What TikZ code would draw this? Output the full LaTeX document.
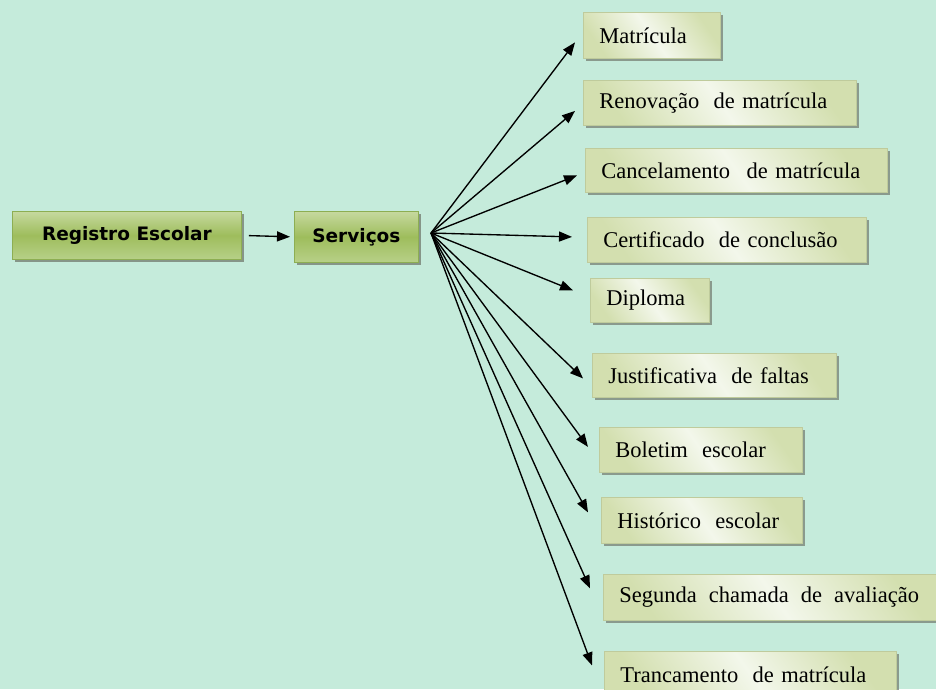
\documentclass[tikz,border=0pt]{standalone}
\usepackage{fontspec}
\setmainfont{Liberation Serif}
\newfontfamily\boxsans{DejaVu Sans}
\usetikzlibrary{shadows,arrows.meta,calc}
\definecolor{bgmint}{HTML}{C5EBDB}
\definecolor{gtop}{HTML}{C6D99F}
\definecolor{gmid}{HTML}{9EBD5C}
\definecolor{gbot}{HTML}{B7D088}
\definecolor{gborder}{HTML}{8DAE52}
\definecolor{rdark}{HTML}{D3DFAF}
\definecolor{rlight}{HTML}{F3F7EB}
\definecolor{rborder}{HTML}{BFCB9C}
\definecolor{shadowc}{HTML}{808C80}
\begin{document}
\begin{tikzpicture}[x=1pt,y=-1pt,
  gbox/.style={draw=gborder, line width=0.8pt, top color=gtop, bottom color=gbot, middle color=gmid,
    drop shadow={shadow xshift=3pt, shadow yshift=-3pt, fill=shadowc, opacity=0.9},
    anchor=north west, inner sep=0pt, font=\boxsans\bfseries\fontsize{18.5}{20}\selectfont},
  rbox/.style={draw=rborder, line width=0.8pt, shading=axis, top color=rdark, bottom color=rdark, middle color=rlight, shading angle=125,
    drop shadow={shadow xshift=3pt, shadow yshift=-3pt, fill=shadowc, opacity=0.85},
    anchor=north west, inner xsep=16pt, inner ysep=0pt, align=left,
    font=\fontsize{22.5}{24}\selectfont, text width=#1},
  arr/.style={-{Triangle[length=13pt,width=10pt]}, line width=1.35pt, black}]
\useasboundingbox[fill=bgmint] (0,0) rectangle (936,689);

\node[gbox, minimum width=229pt, minimum height=48pt] (reg) at (12,211) {Registro Escolar};
\node[gbox, minimum width=124pt, minimum height=51pt] (serv) at (294,211) {Serviços};
\coordinate (hub) at (431,233);

\node[rbox=105pt, minimum height=46pt] (b1) at (583,12) {Matrícula};
\node[rbox=241pt, minimum height=45pt] (b2) at (583,80) {Renovação\hspace{0.3em} de matrícula};
\node[rbox=270pt, minimum height=44pt] (b3) at (585,148) {Cancelamento\hspace{0.4em} de matrícula};
\node[rbox=247pt, minimum height=45pt] (b4) at (587,217) {Certificado\hspace{0.3em} de conclusão};
\node[rbox=87pt, minimum height=44pt] (b5) at (590,278) {Diploma};
\node[rbox=212pt, minimum height=44pt] (b6) at (592,353) {Justificativa\hspace{0.3em} de faltas};
\node[rbox=171pt, minimum height=45pt] (b7) at (599,427) {Boletim\hspace{0.3em} escolar};
\node[rbox=169pt, minimum height=46pt] (b8) at (601,497) {Histórico\hspace{0.3em} escolar};
\node[rbox=310pt, minimum height=46pt] (b9) at (603,574) {Segunda\hspace{0.2em} chamada\hspace{0.2em} de\hspace{0.2em} avaliação};
\node[rbox=260pt, minimum height=46pt] (b10) at (604,651) {Trancamento\hspace{0.3em} de matrícula};

\draw[arr, shorten <=7pt, shorten >=4pt] (reg.east) -- (serv.west);

\draw[arr] (hub) -- ([xshift=-8pt,yshift=-7pt]b1.west);
\draw[arr] (hub) -- ([xshift=-8pt,yshift=-8pt]b2.west);
\draw[arr] (hub) -- ([xshift=-8pt,yshift=-5pt]b3.west);
\draw[arr] (hub) -- ([xshift=-15pt,yshift=3pt]b4.west);
\draw[arr] (hub) -- ([xshift=-17pt,yshift=10pt]b5.west);
\draw[arr] (hub) -- ([xshift=-9pt,yshift=-3pt]b6.west);
\draw[arr] (hub) -- ([xshift=-11pt,yshift=3pt]b7.west);
\draw[arr] (hub) -- ([xshift=-13pt,yshift=8pt]b8.west);
\draw[arr] (hub) -- ([xshift=-13pt,yshift=9pt]b9.west);
\draw[arr] (hub) -- ([xshift=-12pt,yshift=9pt]b10.west);
\end{tikzpicture}
\end{document}
